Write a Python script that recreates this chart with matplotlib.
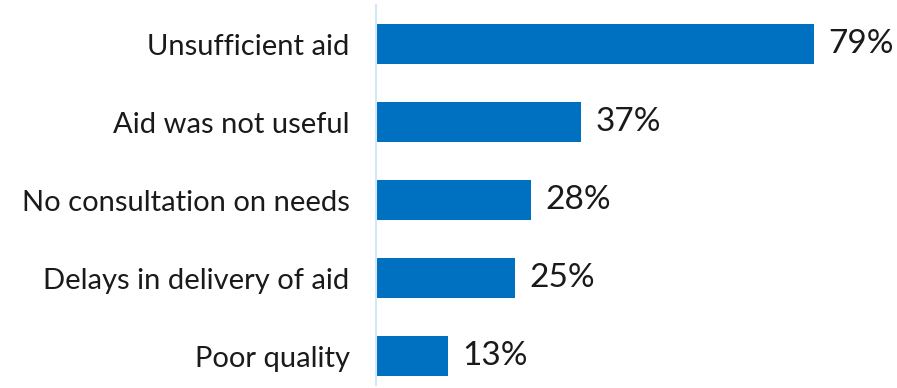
import matplotlib.pyplot as plt

plt.rcParams['font.family'] = ['Lato', 'DejaVu Sans']

# Reasons given for dissatisfaction with aid
categories = ["Unsufficient aid", "Aid was not useful", "No consultation on needs",
              "Delays in delivery of aid", "Poor quality"]
shares = [79, 37, 28, 25, 13]

fig = plt.figure(figsize=(8.97, 3.88), dpi=100)
ax = fig.add_axes([376 / 897, 3 / 388, 1 - 376 / 897, 380 / 388])

y = list(range(len(categories)))
bars = ax.barh(y, shares, height=0.52, color="#0070C0", left=0)

for b, v in zip(bars, shares):
    ax.text(b.get_width() + 2.6, b.get_y() + b.get_height() / 2, f"{v}%",
            va="center", ha="left", fontsize=24, color="#1a1a1a")

ax.set_yticks(y)
ax.set_yticklabels(categories, fontsize=21, color="#1a1a1a")
ax.tick_params(axis="y", length=0, pad=19)
ax.set_xticks([])
ax.set_xlim(0, 94.0)
ax.set_ylim(4.37, -0.5)

for side in ["top", "right", "bottom"]:
    ax.spines[side].set_visible(False)
ax.spines["left"].set_color("#D3E9F8")
ax.spines["left"].set_linewidth(1.5)

fig.savefig("out.png", dpi=100)
